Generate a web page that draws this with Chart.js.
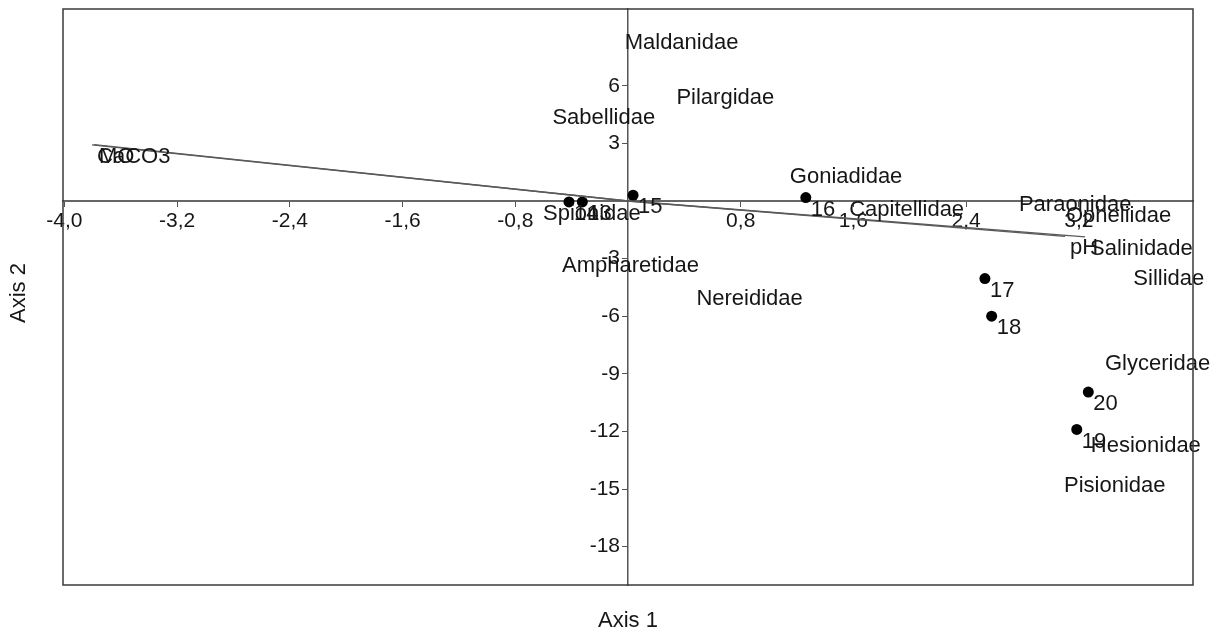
<!DOCTYPE html>
<html>
<head>
<meta charset="utf-8">
<script src="https://cdn.jsdelivr.net/npm/chart.js@4.4.1/dist/chart.umd.min.js"></script>
<style>
  html, body { margin: 0; padding: 0; background: #fff; }
  #wrap { width: 1215px; height: 634px; position: relative; }
</style>
</head>
<body>
<div id="wrap"><canvas id="c"></canvas></div>
<script>
// ---- data ----
const xTicks = [-4.0, -3.2, -2.4, -1.6, -0.8, 0.8, 1.6, 2.4, 3.2];
const yTicks = [6, 3, -3, -6, -9, -12, -15, -18];

const sampleNames = ['13', '14', '15', '16', '17', '18', '19', '20'];
const sampleX = [-0.324, -0.419, 0.036, 1.262, 2.533, 2.581, 3.185, 3.267];
const sampleY = [-0.05, -0.05, 0.30, 0.18, -4.04, -6.0, -11.9, -9.95];

const speciesNames = ['Maldanidae', 'Pilargidae', 'Sabellidae', 'Goniadidae', 'Spionidae',
  'Ampharetidae', 'Nereididae', 'Capitellidae', 'Paraonidae', 'Opheliidae',
  'Sillidae', 'Glyceridae', 'Hesionidae', 'Pisionidae'];
const speciesX = [-0.059, 0.308, -0.572, 1.113, -0.639, -0.504, 0.450, 1.534, 2.739, 3.073,
  3.551, 3.350, 3.249, 3.059];
const speciesY = [8.84, 6.00, 4.93, 1.88, -0.06, -2.76, -4.46, 0.15, 0.43, -0.14,
  -3.41, -7.85, -12.11, -14.24];

const vectorNames = ['CaCO3', 'MO', 'pH', 'Salinidade'];
const vectorX = [-3.804, -3.79, 3.102, 3.244];
const vectorY = [2.925, 2.94, -1.84, -1.87];

const axisTitleX = 'Axis 1';
const axisTitleY = 'Axis 2';

// ---- helpers ----
const fmtX = v => Number(v).toFixed(1).replace('.', ',');
const fmtY = v => String(v);
const FONT = "'Liberation Sans', Arial, sans-serif";
const TXT = '#161616';

const datasets = [];
vectorNames.forEach((n, i) => {
  datasets.push({
    type: 'line', label: n,
    data: [{x: 0, y: 0}, {x: vectorX[i], y: vectorY[i]}],
    borderColor: '#5a5a5a', borderWidth: 1.3, pointRadius: 0, fill: false,
    tipLabels: [null, n]
  });
});
datasets.push({
  type: 'scatter', label: 'species',
  data: speciesX.map((x, i) => ({x, y: speciesY[i]})),
  pointRadius: 0, tipLabels: speciesNames
});
datasets.push({
  type: 'scatter', label: 'samples',
  data: sampleX.map((x, i) => ({x, y: sampleY[i]})),
  pointRadius: 5.5, pointBackgroundColor: '#000', pointBorderColor: '#000', pointBorderWidth: 0,
  tipLabels: sampleNames
});

const labelPlugin = {
  id: 'labels',
  beforeDraw(chart) {
    // keep y tick labels clear of the centred axis line (tick + padding)
    const ys = chart.scales.y;
    const items = ys.getLabelItems(chart.chartArea);
    const gap = ys.options.grid.tickLength + ys.options.ticks.padding;
    items.forEach(it => {
      if (!it._shifted) { it.options.translation[0] -= gap; it._shifted = true; }
    });
  },
  afterDatasetsDraw(chart) {
    const ctx = chart.ctx;
    const xs = chart.scales.x, ys = chart.scales.y;
    ctx.save();
    ctx.fillStyle = TXT;
    ctx.font = '22px ' + FONT;
    ctx.textAlign = 'left';
    ctx.textBaseline = 'middle';
    chart.data.datasets.forEach(ds => {
      if (!ds.tipLabels) return;
      ds.data.forEach((p, i) => {
        const t = ds.tipLabels[i];
        if (!t) return;
        ctx.fillText(t, xs.getPixelForValue(p.x) + 5, ys.getPixelForValue(p.y) + 12);
      });
    });
    ctx.restore();
  },
  afterDraw(chart) {
    const ctx = chart.ctx;
    const a = chart.chartArea;
    ctx.save();
    ctx.strokeStyle = '#3a3a3a';
    ctx.lineWidth = 1.5;
    ctx.strokeRect(a.left, a.top, a.right - a.left, a.bottom - a.top);
    ctx.fillStyle = TXT;
    ctx.font = '22px ' + FONT;
    ctx.textAlign = 'center';
    ctx.textBaseline = 'middle';
    ctx.fillText(axisTitleX, (a.left + a.right) / 2, 621);
    ctx.translate(19, (a.top + a.bottom) / 2 - 4);
    ctx.rotate(-Math.PI / 2);
    ctx.fillText(axisTitleY, 0, 0);
    ctx.restore();
  }
};

const zeroPad = s => { s.paddingTop = 0; s.paddingBottom = 0; s.paddingLeft = 0; s.paddingRight = 0; };

new Chart(document.getElementById('c'), {
  type: 'scatter',
  data: { datasets },
  options: {
    responsive: true,
    maintainAspectRatio: false,
    animation: false,
    devicePixelRatio: 1,
    layout: { padding: { left: 63, top: 9, right: 22, bottom: 49 } },
    plugins: { legend: { display: false }, tooltip: { enabled: false }, title: { display: false } },
    scales: {
      x: {
        type: 'linear', min: -4.01, max: 4.01,
        position: { y: 0 },
        afterBuildTicks: s => { s.ticks = xTicks.map(v => ({ value: v })); },
        afterFit: zeroPad,
        ticks: {
          callback: v => fmtX(v), autoSkip: false, maxRotation: 0, minRotation: 0,
          font: { size: 21, family: FONT }, color: TXT, padding: 3
        },
        grid: { drawOnChartArea: false, drawTicks: true, tickLength: 5, color: '#555', lineWidth: 1 },
        border: { display: true, color: '#666', width: 2 }
      },
      y: {
        type: 'linear', min: -20, max: 10,
        position: { x: 0 },
        afterBuildTicks: s => { s.ticks = yTicks.map(v => ({ value: v })); },
        afterFit: zeroPad,
        ticks: {
          callback: v => fmtY(v), autoSkip: false,
          font: { size: 21, family: FONT }, color: TXT, padding: 3
        },
        grid: { drawOnChartArea: false, drawTicks: true, tickLength: 5, color: '#555', lineWidth: 1 },
        border: { display: true, color: '#555', width: 1.5 }
      }
    }
  },
  plugins: [labelPlugin]
});
</script>
</body>
</html>
